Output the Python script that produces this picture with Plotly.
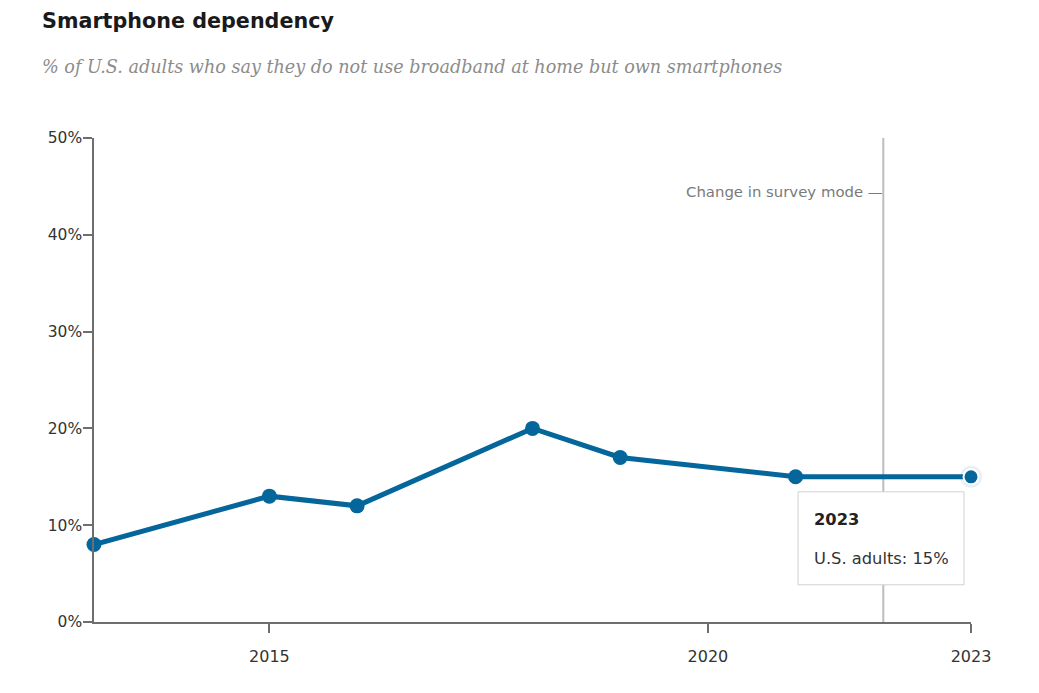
import plotly.graph_objects as go

years = [2013, 2015, 2016, 2018, 2019, 2021, 2023]
values = [8, 13, 12, 20, 17, 15, 15]
x_ticks = [2015, 2020, 2023]
y_ticks = [0, 10, 20, 30, 40, 50]
mode_change_year = 2022
series_name = "U.S. adults"
hover_year = 2023
hover_value = 15

BLUE = "#04669b"
AXIS = "#6e6e6e"
FONT = "DejaVu Sans, Verdana, sans-serif"

# page has an 8px body margin
W, H = 1023, 677
L, T = 86, 130
pw, ph = 877, 484
R, B = W - L - pw, H - T - ph

fig = go.Figure()

# halo for hovered point
fig.add_trace(go.Scatter(
    x=[hover_year], y=[hover_value], mode="markers",
    marker=dict(size=22, color="#e8f0f5"), hoverinfo="skip", showlegend=False))

fig.add_trace(go.Scatter(
    x=years, y=values, mode="lines+markers",
    line=dict(color=BLUE, width=5),
    marker=dict(size=15, color=BLUE,
                line=dict(color=["rgba(0,0,0,0)"] * (len(years) - 1) + ["white"], width=2)),
    name=series_name, showlegend=False))

# vertical survey-mode line
fig.add_shape(type="line", xref="x", yref="paper",
              x0=mode_change_year, x1=mode_change_year, y0=0, y1=1,
              line=dict(color="#bdbdbd", width=2), layer="below")

fig.add_annotation(xref="x", yref="paper", x=mode_change_year, y=1 - (192 - 138) / ph,
                   text="Change in survey mode —", showarrow=False,
                   xanchor="right", yanchor="middle", xshift=2,
                   font=dict(family=FONT, size=14.9, color="#7a7a7a"))

# tooltip box
fig.add_shape(type="rect", xref="x", yref="y",
              xsizemode="pixel", ysizemode="pixel",
              xanchor=hover_year, yanchor=hover_value,
              x0=-173, x1=-7, y0=-15, y1=-108,
              fillcolor="white", line=dict(color="#d0d0d0", width=1), layer="above")
fig.add_annotation(xref="x", yref="y", x=hover_year, y=hover_value,
                   text=f"<b>{hover_year}</b>", showarrow=False,
                   xanchor="left", yanchor="middle", xshift=-159, yshift=-43,
                   font=dict(family=FONT, size=16.3, color="#222"))
fig.add_annotation(xref="x", yref="y", x=hover_year, y=hover_value,
                   text=f"{series_name}: {hover_value}%", showarrow=False,
                   xanchor="left", yanchor="middle", xshift=-159, yshift=-82,
                   font=dict(family=FONT, size=16.3, color="#333"))

# title & subtitle
fig.add_annotation(xref="paper", yref="paper", x=(32 - L) / pw, y=1 + (T - 13) / ph,
                   text="<b>Smartphone dependency</b>", showarrow=False,
                   xanchor="left", yanchor="middle",
                   font=dict(family="DejaVu Sans, sans-serif", size=20.7, color="#1a1a1a"))
fig.add_annotation(xref="paper", yref="paper", x=(32 - L) / pw, y=1 + (T - 59) / ph,
                   text="<i>% of U.S. adults who say they do not use broadband at home but own smartphones</i>",
                   showarrow=False, xanchor="left", yanchor="middle",
                   font=dict(family="DejaVu Serif, serif", size=17.6, color="#8c8c8c"))

fig.update_layout(
    width=W, height=H,
    margin=dict(l=L, r=R, t=T, b=B),
    plot_bgcolor="white", paper_bgcolor="white",
    font=dict(family=FONT, size=15.5, color="#333"),
    xaxis=dict(range=[2013, 2023], tickvals=x_ticks, ticktext=[str(t) for t in x_ticks],
               showgrid=False, zeroline=False, showline=True, linecolor=AXIS, linewidth=1.5,
               ticks="outside", ticklen=9, tickcolor=AXIS, tickwidth=2,
               ticklabelstandoff=10,
               tickfont=dict(size=16, color="#333"), fixedrange=True),
    yaxis=dict(range=[0, 50], tickvals=y_ticks, ticktext=[f"{v}%" for v in y_ticks],
               showgrid=False, zeroline=False, showline=True, linecolor=AXIS, linewidth=1.5,
               ticks="outside", ticklen=9, tickcolor=AXIS, tickwidth=2,
               ticklabelstandoff=-2,
               tickfont=dict(size=15.5, color="#333"), fixedrange=True),
)
fig.update_traces(cliponaxis=False)

fig.write_html("out.html")
